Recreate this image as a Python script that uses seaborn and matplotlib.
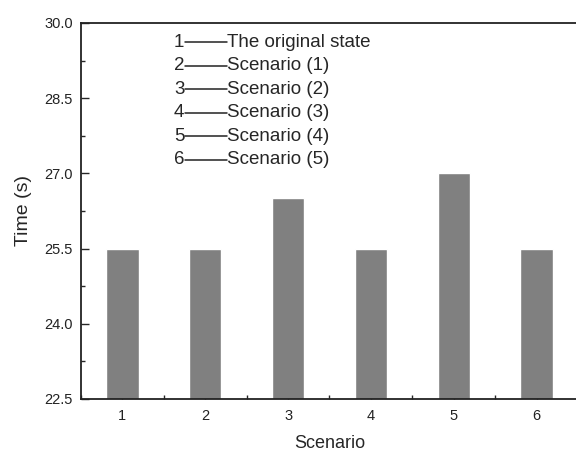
import matplotlib
matplotlib.use("Agg")
import matplotlib.pyplot as plt
import seaborn as sns
import pandas as pd
from matplotlib.lines import Line2D
from matplotlib.ticker import MultipleLocator

scenarios = [1, 2, 3, 4, 5, 6]
times = [25.5, 25.5, 26.5, 25.5, 27.0, 25.5]
legend_numbers = ["1", "2", "3", "4", "5", "6"]
legend_labels = ["The original state", "Scenario (1)", "Scenario (2)",
                 "Scenario (3)", "Scenario (4)", "Scenario (5)"]

sns.set_style("ticks")
plt.rcParams["font.family"] = ["Liberation Sans", "DejaVu Sans"]

df = pd.DataFrame({"Scenario": scenarios, "Time": times})

fig = plt.figure(figsize=(5.76, 4.54), dpi=100)
ax = fig.add_axes([81 / 576, 55 / 454, 497 / 576, 376 / 454])

sns.barplot(data=df, x="Scenario", y="Time", native_scale=True,
            color="#808080", saturation=1, width=0.39, ax=ax)

ax.set_xlim(0.5, 6.5)
ax.set_ylim(22.5, 30.0)
ax.set_yticks([22.5, 24.0, 25.5, 27.0, 28.5, 30.0])
ax.set_yticklabels(["22.5", "24.0", "25.5", "27.0", "28.5", "30.0"])
ax.set_xticks(scenarios)
ax.set_xticklabels([str(s) for s in scenarios])
ax.xaxis.set_minor_locator(MultipleLocator(0.5))
ax.yaxis.set_minor_locator(MultipleLocator(0.75))

ax.tick_params(which="major", direction="in", length=6, width=1,
               labelsize=10.5, labelcolor="#222222")
ax.tick_params(which="minor", direction="in", length=3, width=1)
ax.tick_params(axis="x", pad=7)
ax.tick_params(axis="y", pad=6)

for side in ["left", "bottom", "top", "right"]:
    ax.spines[side].set_visible(True)
    ax.spines[side].set_linewidth(1.3)
    ax.spines[side].set_color("#222222")

ax.set_xlabel("Scenario", fontsize=13, labelpad=9)
ax.set_ylabel("Time (s)", fontsize=14, labelpad=9)

# Key listing what each numbered bar stands for
row_y = [0.949 - 0.0625 * i for i in range(len(legend_labels))]
for num, label, y in zip(legend_numbers, legend_labels, row_y):
    ax.text(0.187, y, num, transform=ax.transAxes, fontsize=13.5,
            va="center", ha="left")
    ax.add_line(Line2D([0.209, 0.294], [y, y], transform=ax.transAxes,
                       color="#222222", lw=1.1))
    ax.text(0.294, y, label, transform=ax.transAxes, fontsize=13.5,
            va="center", ha="left")

fig.savefig("out.png", dpi=100)
